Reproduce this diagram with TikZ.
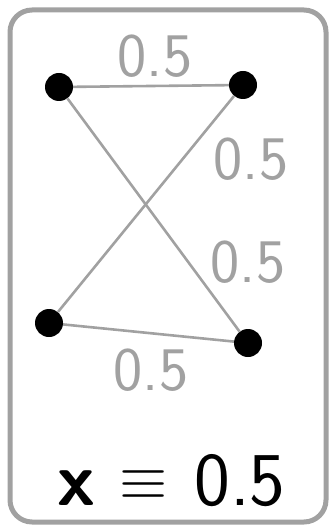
\documentclass[tikz,border=0pt]{standalone}
\begin{document}
\begin{tikzpicture}[x=1pt,y=-1pt,
  vtx/.style={circle,fill=black,inner sep=0pt,minimum size=28pt},
  edge/.style={draw=black!37,line width=2.6pt},
  wlabel/.style={text=black!37,font=\sffamily\fontsize{62}{64}\selectfont,inner sep=0pt},
  big/.style={inner sep=0pt,font=\sffamily\fontsize{76}{78}\selectfont}]
\useasboundingbox (0,0) rectangle (334,529);
\draw[black!37,line width=5pt,rounded corners=22pt] (10,10) rectangle (326,522);
\node[vtx] (a) at (59,87) {};
\node[vtx] (b) at (243,85) {};
\node[vtx] (c) at (49,323) {};
\node[vtx] (d) at (248,343) {};
\draw[edge] (a) -- (b);
\draw[edge] (a) -- (d);
\draw[edge] (b) -- (c);
\draw[edge] (c) -- (d);
\node[wlabel] (l1) at (155,56) {0.5};
\node[wlabel] (l2) at (251,159) {0.5};
\node[wlabel] (l3) at (248,262) {0.5};
\node[wlabel] (l4) at (151,370) {0.5};
\node[big,anchor=base] (ex) at (76,505) {\bfseries x};
\node[inner sep=0pt] (eqv) at (144,485) {\scalebox{6.2}{$\equiv$}};
\node[big,anchor=base] (ev) at (240,505) {0.5};
\end{tikzpicture}
\end{document}
